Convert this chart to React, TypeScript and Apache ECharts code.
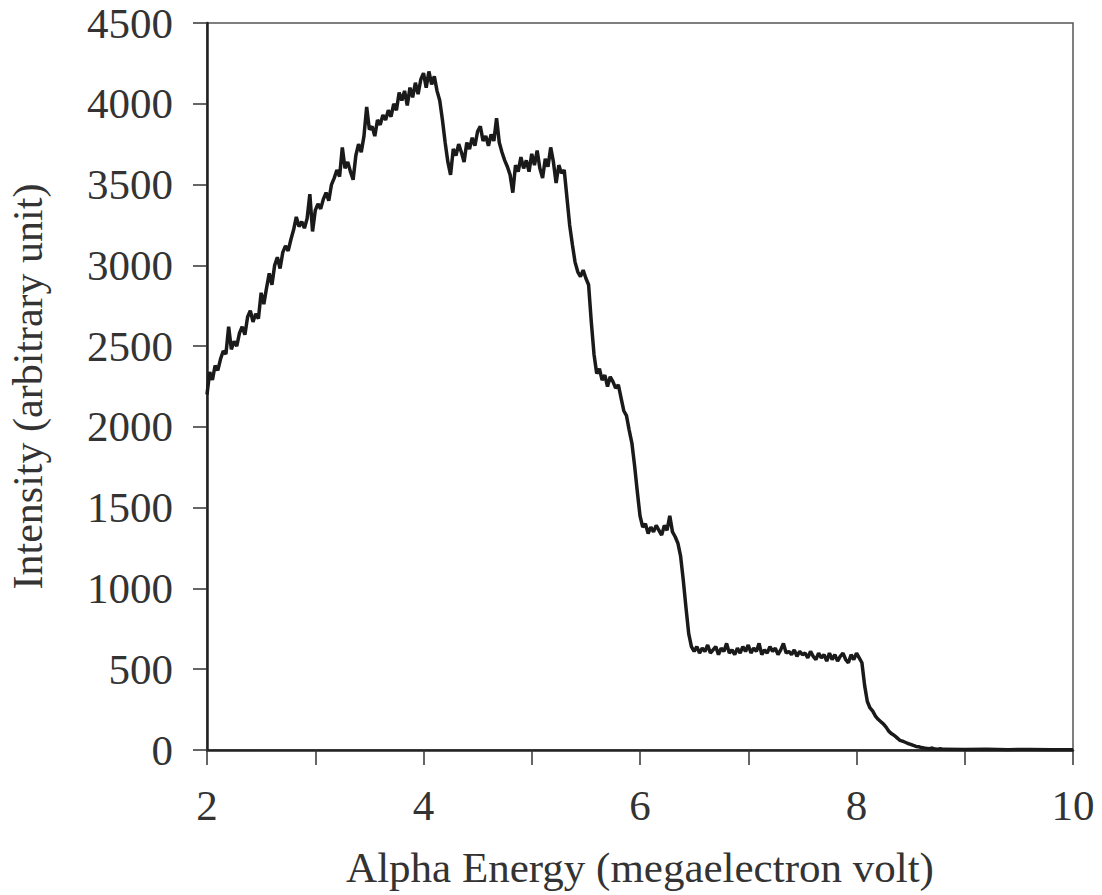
import React, { useEffect, useRef } from "react";
import * as echarts from "echarts";

// Energy grid: first energy and spacing (MeV) of the sampled spectrum
const startEnergy = 2.0;
const energyStep = 0.025;

// Intensity, 2.000 .. 8.800 MeV every 0.025 MeV
const rise = [
  2200, 2340, 2290, 2380, 2350, 2420, 2470, 2450, 2620, 2480,
  2530, 2500, 2580, 2620, 2570, 2680, 2720, 2650, 2700, 2670,
  2830, 2760, 2860, 2950, 2880, 3000, 3050, 2980, 3080, 3120,
  3090, 3160, 3220, 3300, 3240, 3270, 3230, 3290, 3440, 3210,
  3340, 3380, 3350, 3410, 3450, 3400, 3500, 3540, 3590, 3550,
  3730, 3600, 3640, 3580, 3530, 3680, 3750, 3700, 3800, 3980,
  3840, 3860, 3800, 3900, 3870, 3930, 3900, 3960, 3920, 4000,
  3960, 4070, 4020, 4080, 3990, 4100, 4040, 4130, 4060, 4150,
  4190, 4100, 4200, 4120, 4170, 4080, 4020, 3900, 3760, 3640,
  3560, 3720,
];
const shoulder = [
  3680, 3750, 3700, 3640, 3760, 3720, 3790, 3740, 3830, 3860,
  3770, 3800, 3740, 3810, 3770, 3910, 3760, 3700, 3650, 3610,
  3560, 3450, 3620, 3580, 3670, 3600, 3650, 3580, 3690, 3620,
  3710, 3600, 3540, 3660, 3610, 3730, 3640, 3510, 3620, 3570,
  3590, 3420, 3250, 3130,
];
const steps = [
  3020, 2960, 2930, 2970, 2920, 2880, 2650, 2450, 2330, 2360,
  2290, 2320, 2250, 2310, 2280, 2240, 2260, 2180, 2100, 2070,
  1980, 1900, 1760, 1600, 1450, 1380, 1400, 1340, 1380, 1350,
  1390, 1360, 1330, 1390, 1360, 1450, 1350, 1320, 1280, 1200,
  1050, 880, 720, 640, 610,
];
const plateau = [
  640, 600, 630, 610, 650, 600, 620, 640, 590, 630,
  610, 660, 600, 620, 590, 630, 600, 640, 610, 650,
  600, 630, 610, 660, 590, 620, 600, 640, 610, 630,
  590, 620, 660, 600, 610, 590, 620, 580, 610, 590,
  600, 570, 610, 580, 560, 600, 570, 590, 550, 600,
  560, 590, 550, 580, 600, 560, 540, 590, 560, 600,
  570, 540,
];
const falloff = [
  400, 300, 260, 240, 210, 190, 175, 160, 140, 115,
  100, 90, 75, 60, 55, 48, 40, 35, 28, 22,
  20, 15, 12, 10, 8, 12, 6, 5, 8, 4,
];
// Sparse tail beyond 8.8 MeV
const tailEnergy = [9.0, 9.2, 9.4, 9.6, 9.8, 10.0];
const tailIntensity = [3, 4, 2, 3, 2, 2];

const xTicks = [2, 4, 6, 8, 10];

const sampled = [...rise, ...shoulder, ...steps, ...plateau, ...falloff];

export default function App() {
  const ref = useRef<HTMLDivElement>(null);
  useEffect(() => {
    if (!ref.current) return;
    const chart = echarts.init(ref.current, undefined, { renderer: "svg" });
    const data: [number, number][] = sampled.map((v, i) => [
      +(startEnergy + i * energyStep).toFixed(3),
      v,
    ]);
    tailEnergy.forEach((e, i) => data.push([e, tailIntensity[i]]));

    const font = "'Liberation Serif', 'Times New Roman', serif";
    chart.setOption({
      animation: false,
      backgroundColor: "#ffffff",
      grid: {
        left: 207,
        right: 29,
        top: 23,
        bottom: 145,
        show: true,
        borderColor: "#555",
        borderWidth: 1.5,
        outerBoundsMode: "none",
        containLabel: false,
      },
      xAxis: {
        type: "value",
        min: 2,
        max: 10,
        interval: 1,
        name: "Alpha Energy (megaelectron volt)",
        nameLocation: "middle",
        nameGap: 96,
        nameTextStyle: { fontFamily: font, fontSize: 43, color: "#333" },
        axisLine: { lineStyle: { color: "#222", width: 2.5 } },
        axisTick: { inside: false, length: 15, lineStyle: { color: "#333", width: 1.5 } },
        axisLabel: {
          fontFamily: font,
          fontSize: 43,
          color: "#333",
          margin: 34,
          formatter: (v: number) => (xTicks.includes(v) ? String(v) : ""),
        },
        splitLine: { show: false },
      },
      yAxis: {
        type: "value",
        min: 0,
        max: 4500,
        interval: 500,
        name: "Intensity (arbitrary unit)",
        nameLocation: "middle",
        nameGap: 158,
        nameRotate: 90,
        nameTextStyle: { fontFamily: font, fontSize: 42, color: "#333" },
        axisLine: { show: true, lineStyle: { color: "#222", width: 2.5 } },
        axisTick: { show: true, inside: false, length: 14, lineStyle: { color: "#333", width: 1.5 } },
        axisLabel: {
          fontFamily: font,
          fontSize: 43,
          color: "#333",
          margin: 34,
          formatter: (v: number) => String(v),
        },
        splitLine: { show: false },
      },
      series: [
        {
          type: "line",
          data,
          showSymbol: false,
          symbol: "none",
          lineStyle: { color: "#1a1a1a", width: 3.5 },
          z: 3,
        },
      ],
    });
    return () => chart.dispose();
  }, []);
  return (
    <div
      ref={ref}
      style={{ position: "fixed", left: 0, top: 0, width: 1102, height: 895 }}
    />
  );
}
